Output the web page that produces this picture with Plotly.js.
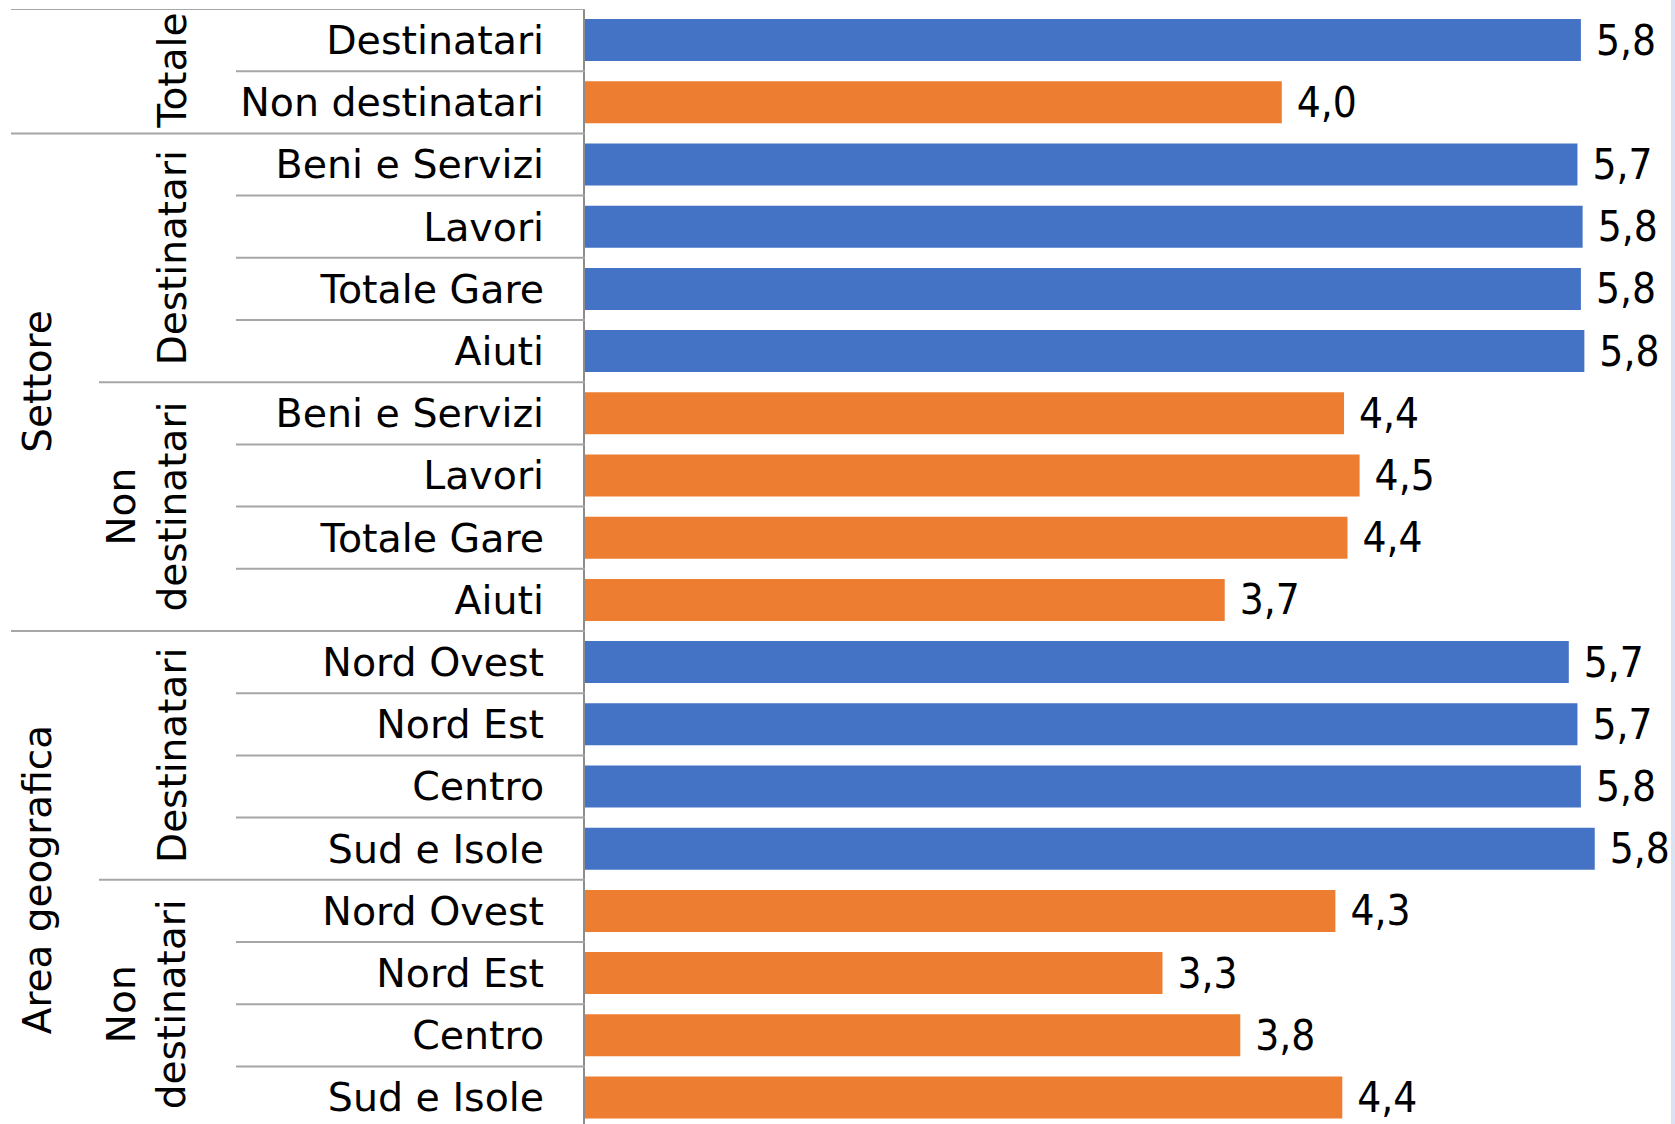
<!DOCTYPE html>
<html>
<head>
<meta charset="utf-8">
<script src="https://cdn.plot.ly/plotly-3.0.1.min.js"></script>
<style>
  html, body { margin: 0; padding: 0; background: #ffffff; }
  #chart { width: 1675px; height: 1124px; }
</style>
</head>
<body>
<div id="chart"></div>
<script>
// ---- Data ----
const livello0 = ['', '',
  'Settore', 'Settore', 'Settore', 'Settore', 'Settore', 'Settore', 'Settore', 'Settore',
  'Area geografica', 'Area geografica', 'Area geografica', 'Area geografica',
  'Area geografica', 'Area geografica', 'Area geografica', 'Area geografica'];
const livello1 = ['Totale', 'Totale',
  'Destinatari', 'Destinatari', 'Destinatari', 'Destinatari',
  'Non destinatari', 'Non destinatari', 'Non destinatari', 'Non destinatari',
  'Destinatari', 'Destinatari', 'Destinatari', 'Destinatari',
  'Non destinatari', 'Non destinatari', 'Non destinatari', 'Non destinatari'];
const voci = ['Destinatari', 'Non destinatari',
  'Beni e Servizi', 'Lavori', 'Totale Gare', 'Aiuti',
  'Beni e Servizi', 'Lavori', 'Totale Gare', 'Aiuti',
  'Nord Ovest', 'Nord Est', 'Centro', 'Sud e Isole',
  'Nord Ovest', 'Nord Est', 'Centro', 'Sud e Isole'];
const valori = [5.76, 4.03,
  5.74, 5.77, 5.76, 5.78,
  4.39, 4.48, 4.41, 3.70,
  5.69, 5.74, 5.76, 5.84,
  4.34, 3.34, 3.79, 4.38];

const coloriSerie = { 'Destinatari': '#4472C4', 'Non destinatari': '#ED7D31' };

// ---- Derived ----
const ids = voci.map((v, i) => livello0[i] + '|' + livello1[i] + '|' + v);
const serie = voci.map((v, i) => livello1[i] === 'Totale' ? v : livello1[i]);

// figure geometry (layout only)
const FIG_W = 1675, FIG_H = 1124;
const M = { l: 585, r: 0, t: 9, b: 0 };
const plotW = FIG_W - M.l - M.r;
const plotH = FIG_H - M.t - M.b;
const pxPerUnit = 172.9;
const rowPx = 62.2;
const px2paper = px => (px - M.l) / plotW;

const FONT = 'DejaVu Sans, Verdana, sans-serif';
const VFONT = 'DejaVu Sans Condensed, DejaVu Sans, sans-serif';

const traces = Object.keys(coloriSerie).map(s => {
  const idx = serie.map((v, i) => v === s ? i : -1).filter(i => i >= 0);
  return {
    type: 'bar',
    orientation: 'h',
    name: s,
    y: idx.map(i => ids[i]),
    x: idx.map(i => valori[i]),
    marker: { color: coloriSerie[s], line: { width: 0 } },
    texttemplate: '\u00a0%{x:.1f}',
    textposition: 'outside',
    constraintext: 'none',
    cliponaxis: false,
    textfont: { family: VFONT, size: 42, color: '#000000' },
    hoverinfo: 'skip'
  };
});

// group runs
function runs(keyFn) {
  const out = [];
  for (let i = 0; i < ids.length; i++) {
    const k = keyFn(i);
    if (out.length && out[out.length - 1].key === k) out[out.length - 1].end = i;
    else out.push({ key: k, start: i, end: i });
  }
  return out;
}
const runs0 = runs(i => livello0[i]);
const runs1 = runs(i => livello0[i] + '|' + livello1[i]);

const annotations = [];
runs1.forEach(r => {
  const label = livello1[r.start].replace('Non destinatari', 'Non<br>destinatari');
  annotations.push({
    xref: 'paper', yref: 'y', x: px2paper(197), y: (r.start + r.end) / 2,
    xanchor: 'right', yanchor: 'middle', textangle: -90, showarrow: false,
    text: label, font: { family: FONT, size: 39, color: '#000000' }
  });
});
runs0.forEach(r => {
  if (!livello0[r.start]) return;
  annotations.push({
    xref: 'paper', yref: 'y', x: px2paper(62), y: (r.start + r.end) / 2,
    xanchor: 'right', yanchor: 'middle', textangle: -90, showarrow: false,
    text: livello0[r.start], font: { family: FONT, size: 39, color: '#000000' }
  });
});

// divider lines between rows
const shapes = [];
const lineStyle = { color: '#a6a6a6', width: 2 };
shapes.push({ type: 'line', xref: 'paper', yref: 'y', x0: px2paper(11), x1: 0, y0: -0.5, y1: -0.5, line: lineStyle });
for (let i = 0; i < ids.length - 1; i++) {
  let startPx;
  if (livello0[i] !== livello0[i + 1]) startPx = 11;
  else if (livello1[i] !== livello1[i + 1]) startPx = 99;
  else startPx = 236;
  shapes.push({ type: 'line', xref: 'paper', yref: 'y', x0: px2paper(startPx), x1: 0,
    y0: i + 0.5, y1: i + 0.5, line: lineStyle });
}
// light frame edge at right
shapes.push({ type: 'rect', xref: 'paper', yref: 'paper', x0: px2paper(1671), x1: 1,
  y0: 0, y1: 1 + M.t / plotH, fillcolor: '#dae3f3', line: { width: 0 }, layer: 'below' });

const bottomRange = (ids.length - 0.5) - (M.t + rowPx * ids.length - FIG_H) / rowPx;

const layout = {
  width: FIG_W, height: FIG_H,
  margin: M,
  paper_bgcolor: '#ffffff', plot_bgcolor: '#ffffff',
  showlegend: false,
  barmode: 'overlay',
  bargap: 0.325,
  separators: ',.',
  xaxis: { visible: false, range: [0, plotW / pxPerUnit], fixedrange: true },
  yaxis: {
    type: 'category',
    categoryorder: 'array', categoryarray: ids,
    tickvals: ids, ticktext: voci,
    range: [bottomRange, -0.5],
    showgrid: false, zeroline: false,
    showline: true, linecolor: '#8c8c8c', linewidth: 2,
    ticks: '', ticklabelstandoff: 31,
    tickfont: { family: FONT, size: 39.5, color: '#000000' },
    fixedrange: true
  },
  annotations: annotations,
  shapes: shapes,
  font: { family: FONT, color: '#000000' }
};

Plotly.newPlot('chart', traces, layout, { displayModeBar: false, staticPlot: true });
</script>
</body>
</html>
